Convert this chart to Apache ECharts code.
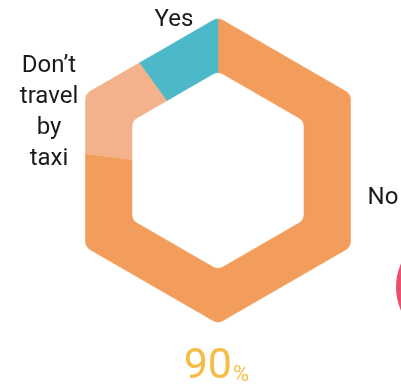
<!DOCTYPE html>
<html><head><meta charset="utf-8">
<script src="https://cdn.jsdelivr.net/npm/echarts@6/dist/echarts.min.js"></script>
<style>html,body{margin:0;padding:0;background:#fff}#c{width:401px;height:390px}</style>
</head><body><div id="c"></div>
<script>
// clockwise from the top vertex
const categories = ['No', "Don\u2019t travel by taxi", 'Yes'];
const values = [77, 13, 10];
const colors = ['#F29D5B', '#F3B28C', '#4DB8C7'];
const headline = '90';
const headlineUnit = '%';

const OUTER_APOTHEM = 132.5, OUTER_RC = 10;
const INNER_APOTHEM = 86, INNER_RC = 10;
const total = values.reduce((a, b) => a + b, 0);
const D2R = Math.PI / 180;

function hexRadial(A, rc, pct) {
  const theta = 90 - pct / 100 * 360;
  let phi = ((theta % 60) + 60) % 60;
  if (phi > 30) phi -= 60;
  phi = Math.abs(phi) * D2R;
  const t30 = Math.tan(30 * D2R);
  const Ap = A - rc;
  if (A * Math.tan(phi) <= Ap * t30) return A / Math.cos(phi);
  const cx = Ap, cy = Ap * t30;
  const uc = Math.cos(phi) * cx + Math.sin(phi) * cy;
  return uc + Math.sqrt(uc * uc - (cx * cx + cy * cy) + rc * rc);
}

const labelFont = '24px Roboto';
const labelColor = '#1a1a1a';
const accent = '#F5BD45';

const chart = echarts.init(document.getElementById('c'), null, {renderer: 'canvas'});
chart.setOption({
  animation: false,
  polar: {center: [218, 170.5], radius: 160},
  radiusAxis: {min: 0, max: 160, show: false},
  angleAxis: {min: 0, max: 100, startAngle: 90, clockwise: true, show: false},
  series: [{
    type: 'custom',
    coordinateSystem: 'polar',
    data: values.map((v, i) => ({name: categories[i], value: [v, i]})),
    renderItem: function (params, api) {
      const i = params.dataIndex;
      let start = 0;
      for (let k = 0; k < i; k++) start += values[k];
      const p0 = start / total * 100, p1 = (start + values[i]) / total * 100;
      const pts = [];
      const step = 0.1;
      const n = Math.max(2, Math.ceil((p1 - p0) / step));
      for (let s = 0; s <= n; s++) {
        const p = p0 + (p1 - p0) * s / n;
        pts.push(api.coord([hexRadial(OUTER_APOTHEM, OUTER_RC, p), p]));
      }
      for (let s = n; s >= 0; s--) {
        const p = p0 + (p1 - p0) * s / n;
        pts.push(api.coord([hexRadial(INNER_APOTHEM, INNER_RC, p), p]));
      }
      return {
        type: 'polygon',
        shape: {points: pts},
        style: {fill: colors[i], stroke: colors[i], lineWidth: 0.6}
      };
    }
  }],
  graphic: [
    {type: 'circle', shape: {cx: 454, cy: 287, r: 58}, style: {fill: '#E8506E'}},
    {type: 'text', x: 174, y: 20, style: {text: categories[2], font: labelFont, fill: labelColor, align: 'center', verticalAlign: 'middle'}},
    {type: 'text', x: 49, y: 112.5, style: {text: "Don\u2019t\ntravel\nby\ntaxi", font: labelFont, lineHeight: 31, fill: labelColor, align: 'center', verticalAlign: 'middle'}},
    {type: 'text', x: 383, y: 197.5, style: {text: categories[0], font: labelFont, fill: labelColor, align: 'center', verticalAlign: 'middle'}},
    {type: 'text', x: 232, y: 367.5, style: {text: headline, font: '43px Roboto', fill: accent, align: 'right', verticalAlign: 'middle'}},
    {type: 'text', x: 233, y: 375.5, style: {text: headlineUnit, font: '22px Roboto', fill: accent, align: 'left', verticalAlign: 'middle'}}
  ]
});
</script></body></html>
